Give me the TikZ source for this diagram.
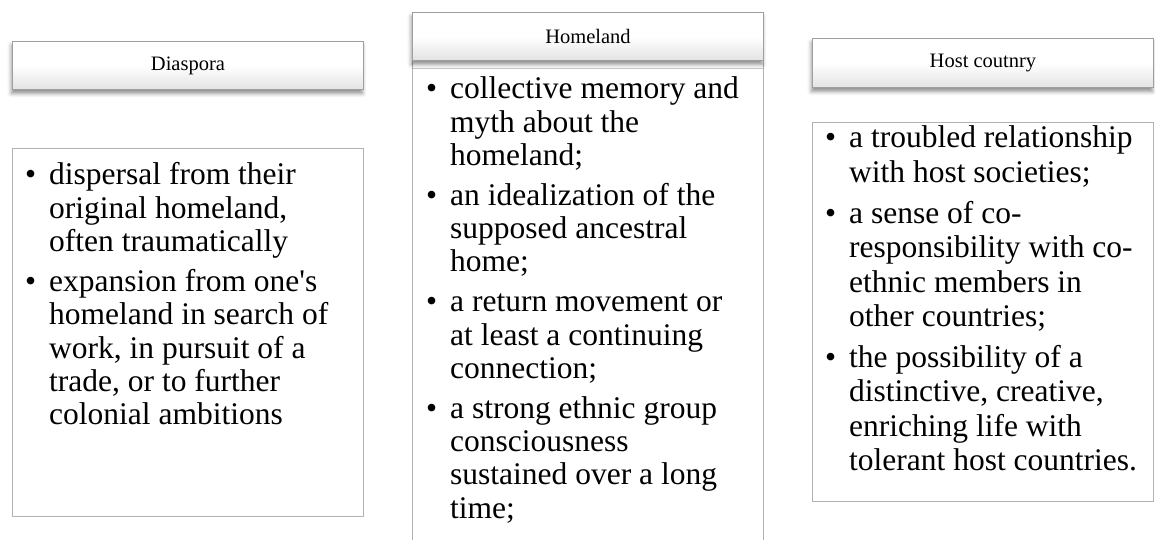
\documentclass[tikz,border=0pt]{standalone}
\usepackage{fontspec}
\setmainfont{Liberation Serif}
\usetikzlibrary{shadows.blur}

\tikzset{
  headbox/.style={draw=black!38, line width=0.9pt,
    top color=white, bottom color=black!11, middle color=white,
    inner sep=0pt, anchor=north west,
    font=\fontsize{20.5}{24}\selectfont,
    blur shadow={shadow xshift=-1pt, shadow yshift=-4pt,
      shadow blur radius=4pt, shadow opacity=45}},
  bodybox/.style={draw=black!30, line width=1pt, fill=white,
    inner sep=0pt, anchor=north west},
  bullets/.style={inner sep=0pt, anchor=base west, align=left,
    font=\fontsize{31.5}{33.3}\selectfont},
}
\newcommand{\bul}{\makebox[24pt][l]{\textbullet}}

\begin{document}
\begin{tikzpicture}[x=1pt, y=-1pt]
  \useasboundingbox (0,0) rectangle (1155,540);
  \clip (0,0) rectangle (1155,540);

  % body panels
  \node[bodybox, minimum width=351pt, minimum height=368pt] (dbody) at (12,148) {};
  \node[bodybox, minimum width=351pt, minimum height=500pt] (hbody) at (412,60) {};
  \node[bodybox, minimum width=341pt, minimum height=379pt] (cbody) at (812,122) {};

  % header tabs
  \node[headbox, minimum width=351pt, minimum height=48pt] (dhead) at (12,41) {Diaspora};
  \node[headbox, minimum width=351pt, minimum height=48pt] (hhead) at (412,12) {Homeland};
  \node[headbox, minimum width=341pt, minimum height=49pt] (chead) at (812,38) {Host coutnry};

  % bullet lists
  \node[bullets] (dtext) at (25,185) {%
    \begin{tabular}[t]{@{}l@{}l@{}}
      \bul & dispersal from their\\
           & original homeland,\\
           & often traumatically\\[6.5pt]
      \bul & expansion from one\textquotesingle s\\
           & homeland in search of\\
           & work, in pursuit of a\\
           & trade, or to further\\
           & colonial ambitions
    \end{tabular}};

  \node[bullets] (htext) at (426,99) {%
    \begin{tabular}[t]{@{}l@{}l@{}}
      \bul & collective memory and\\
           & myth about the\\
           & homeland;\\[6.5pt]
      \bul & an idealization of the\\
           & supposed ancestral\\
           & home;\\[6.5pt]
      \bul & a return movement or\\
           & at least a continuing\\
           & connection;\\[6.5pt]
      \bul & a strong ethnic group\\
           & consciousness\\
           & sustained over a long\\
           & time;
    \end{tabular}};

  \node[bullets, font=\fontsize{31.5}{34.5}\selectfont] (ctext) at (825,148) {%
    \begin{tabular}[t]{@{}l@{}l@{}}
      \bul & a troubled relationship\\
           & with host societies;\\[6pt]
      \bul & a sense of co-\\
           & responsibility with co-\\
           & ethnic members in\\
           & other countries;\\[6pt]
      \bul & the possibility of a\\
           & distinctive, creative,\\
           & enriching life with\\
           & tolerant host countries.
    \end{tabular}};
\end{tikzpicture}
\end{document}
